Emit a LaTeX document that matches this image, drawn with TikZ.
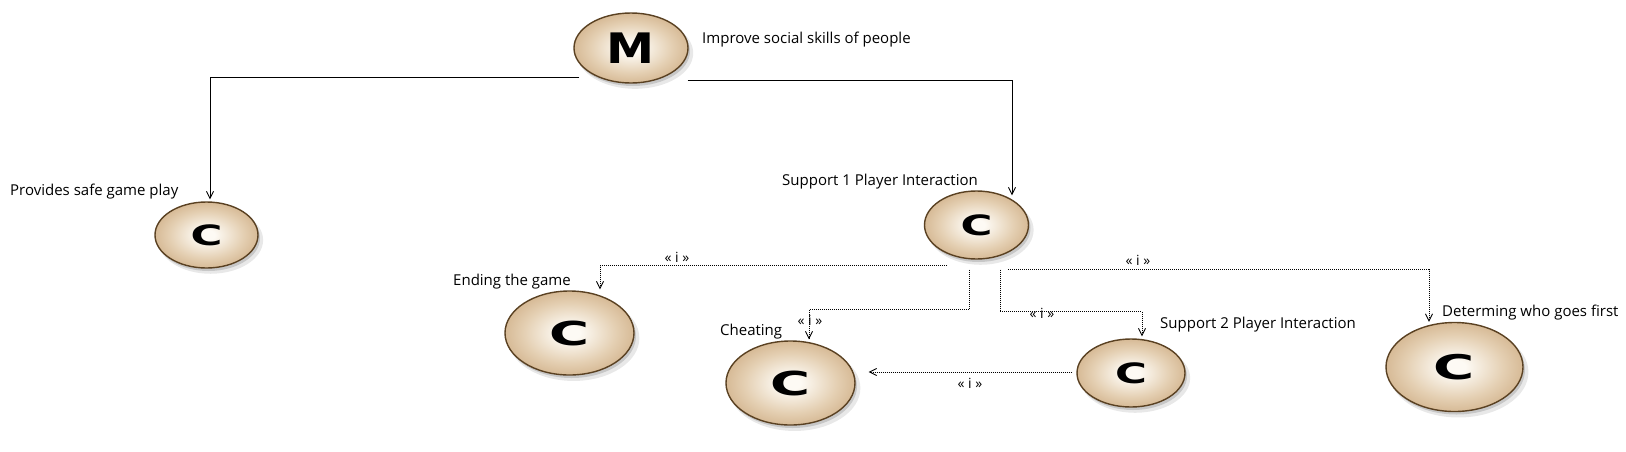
\documentclass[tikz,border=0pt]{standalone}
\usepackage{graphicx}
\usepackage{fontspec}
\setmainfont{Open Sans}
\newfontfamily\letterfont{DejaVu Sans Bold}
\usetikzlibrary{arrows.meta,shadows,calc,shapes.geometric}
\definecolor{cin}{HTML}{FDFAF4}
\definecolor{cmid}{HTML}{E4CFB2}
\definecolor{cout}{HTML}{C7A276}
\definecolor{cedge}{HTML}{BD976A}
\definecolor{cborder}{HTML}{5A4122}
\pgfdeclareradialshading{bubbleshade}{\pgfpoint{0bp}{0bp}}{color(0bp)=(cin); color(4bp)=(cin); color(18bp)=(cmid); color(33bp)=(cout); color(45bp)=(cedge); color(100bp)=(cedge)}
\begin{document}
\begin{tikzpicture}[x=1pt,y=-1pt,
  bubble/.style={ellipse, draw=cborder, line width=1.4pt, shading=bubbleshade, inner sep=0pt,
    drop shadow={shadow xshift=2pt, shadow yshift=-3pt, opacity=0.14, fill=black},
    drop shadow={shadow xshift=4pt, shadow yshift=-5pt, shadow scale=1.02, opacity=0.09, fill=black}},
  lbl/.style={anchor=base west, inner sep=0pt, font=\fontsize{15}{18}\selectfont},
  ilbl/.style={anchor=center, inner sep=0pt, font=\fontsize{14}{16}\selectfont},
  solidline/.style={draw=black, line width=0.9pt, -{Straight Barb[length=7pt,width=7pt]}},
  dotline/.style={draw=black, line width=0.9pt, dash pattern=on 1pt off 1pt, -{Straight Barb[length=7pt,width=7pt]}}
]
\useasboundingbox[fill=white] (0,0) rectangle (1626,451);

% nodes
\node[bubble, minimum width=114pt, minimum height=70pt] (M) at (631,48)
  {\letterfont\fontsize{42}{42}\selectfont\scalebox{1.15}[1]{M}};
\node[bubble, minimum width=103pt, minimum height=66pt] (C1) at (206.5,235)
  {\letterfont\fontsize{28}{28}\selectfont\scalebox{1.55}[1]{C}};
\node[bubble, minimum width=104pt, minimum height=68pt] (C2) at (976.5,225)
  {\letterfont\fontsize{28}{28}\selectfont\scalebox{1.55}[1]{C}};
\node[bubble, minimum width=129pt, minimum height=84pt] (C3) at (569.5,333)
  {\letterfont\fontsize{33}{33}\selectfont\scalebox{1.65}[1]{C}};
\node[bubble, minimum width=129pt, minimum height=84pt] (C4) at (790.5,383)
  {\letterfont\fontsize{33}{33}\selectfont\scalebox{1.65}[1]{C}};
\node[bubble, minimum width=108pt, minimum height=68pt] (C5) at (1131,373)
  {\letterfont\fontsize{28}{28}\selectfont\scalebox{1.55}[1]{C}};
\node[bubble, minimum width=137pt, minimum height=89pt] (C6) at (1454.5,367)
  {\letterfont\fontsize{34}{34}\selectfont\scalebox{1.65}[1]{C}};

% node labels
\node[lbl] (tM) at (702,43) {Improve social skills of people};
\node[lbl] (tC1) at (10,195) {Provides safe game play};
\node[lbl] (tC2) at (782,185) {Support 1 Player Interaction};
\node[lbl] (tC3) at (453,285) {Ending the game};
\node[lbl] (tC4) at (720,335) {Cheating};
\node[lbl] (tC5) at (1160,328) {Support 2 Player Interaction};
\node[lbl] (tC6) at (1442,316) {Determing who goes first};

% solid connectors
\draw[solidline] ($(M.west)+(6,29)$) -| ($(C1.north)+(3.5,-2)$);
\draw[solidline] ($(M.east)+(-1,32)$) -| ($(C2.north)+(35.5,5)$);

% dotted connectors
\coordinate (a1) at ($(C2.south)+(-29.5,6)$);
\coordinate (b1) at ($(C2.south)+(-7.5,10)$);
\coordinate (c1) at ($(C2.south)+(23.5,10)$);
\coordinate (d1) at ($(C2.south)+(31.5,10)$);
\draw[dotline] (a1) -| ($(C3.north)+(30.5,-1)$);
\draw[dotline] (b1) -- ($(b1)+(0,40)$) -| ($(C4.north)+(18.5,-1)$);
\draw[dotline] (c1) -- ($(c1)+(0,42)$) -| ($(C5.north)+(11,-2)$);
\draw[dotline] (d1) -| ($(C6.north)+(-25.5,0)$);
\draw[dotline] ($(C5.west)+(-4,-1)$) -- ($(C4.east)+(13,-11)$);

% stereotype labels
\node[ilbl] (i1) at (677,257) {« i »};
\node[ilbl] (i2) at (810,320) {« i »};
\node[ilbl] (i3) at (1042,313) {« i »};
\node[ilbl] (i4) at (1138,260) {« i »};
\node[ilbl] (i5) at (970,383) {« i »};
\end{tikzpicture}
\end{document}
